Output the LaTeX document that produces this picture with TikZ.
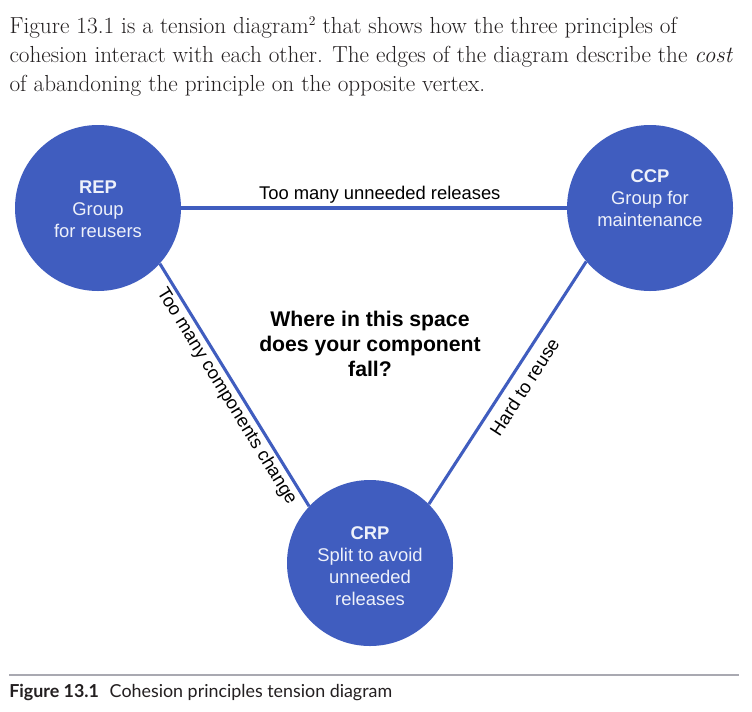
\documentclass[tikz,border=0pt]{standalone}
\usepackage{fontspec}
\setsansfont{Liberation Sans}
\newfontfamily\capfont{Lato}
\definecolor{cblue}{HTML}{405DBF}
\definecolor{ctext}{HTML}{EEF1FA}
\definecolor{rulegray}{HTML}{A9A9B1}
\definecolor{ink}{HTML}{231F20}
\begin{document}
\begin{tikzpicture}[x=0.75pt,y=-0.75pt,
  principle/.style={circle,fill=cblue,draw=none,minimum size=124.5pt,inner sep=0pt},
  ptext/.style={text=ctext,font=\sffamily\fontsize{13.8}{16.5}\selectfont,align=center,inner sep=0pt},
  edge/.style={draw=cblue,line width=2.3pt},
  elabel/.style={font=\sffamily\fontsize{13.8}{16}\selectfont,text=black,inner sep=2pt},
  para/.style={font=\fontsize{17.4}{22}\selectfont,text=ink,anchor=base west,inner sep=0pt},
  question/.style={font=\sffamily\bfseries\fontsize{15.9}{18.75}\selectfont,align=center,text=black,inner sep=0pt}]
\useasboundingbox[fill=white] (0,0) rectangle (752,711);
% paragraph
\node[para] (l1) at (9.3,33) {Figure 13.1 is a tension diagram\raisebox{0.75ex}{\fontsize{10}{10}\selectfont 2} that shows how the three principles of};
\node[para] (l2) at (9.3,62) {cohesion interact with each other. The edges of the diagram describe the \textit{cost}};
\node[para] (l3) at (9.3,91) {of abandoning the principle on the opposite vertex.};
% circles
\node[principle] (rep) at (98,208) {};
\node[principle] (ccp) at (650,208) {};
\node[principle] (crp) at (370,563) {};
\node[ptext] (reptext) at (98,209) {\textbf{REP}\\Group\\for reusers};
\node[ptext] (ccptext) at (650,198) {\textbf{CCP}\\Group for\\maintenance};
\node[ptext] (crptext) at (370,566) {\textbf{CRP}\\Split to avoid\\unneeded\\releases};
% edges
\draw[edge] (rep.east) -- node[elabel,above,pos=0.515] (e1) {Too many unneeded releases} (ccp.west);
\draw[edge] (rep.-42) -- node[elabel,sloped,below,pos=0.52] (e2) {Too many components change} (crp.137);
\draw[edge] (crp.45) -- node[elabel,sloped,below,pos=0.52,inner sep=6pt] (e3) {Hard to reuse} (ccp.-140);
% question
\node[question] (q) at (370,344) {Where in this space\\does your component\\fall?};
% caption
\coordinate (rl) at (9,675);
\coordinate (rr) at (739,675);
\draw[rulegray,line width=1.5pt] (rl) -- (rr);
\node[anchor=base west,inner sep=0pt,text=ink,font=\capfont\fontsize{13.4}{15}\selectfont] (cap) at (9,697) {\textbf{Figure 13.1}\hspace{0.6em}Cohesion principles tension diagram};
\end{tikzpicture}
\end{document}
